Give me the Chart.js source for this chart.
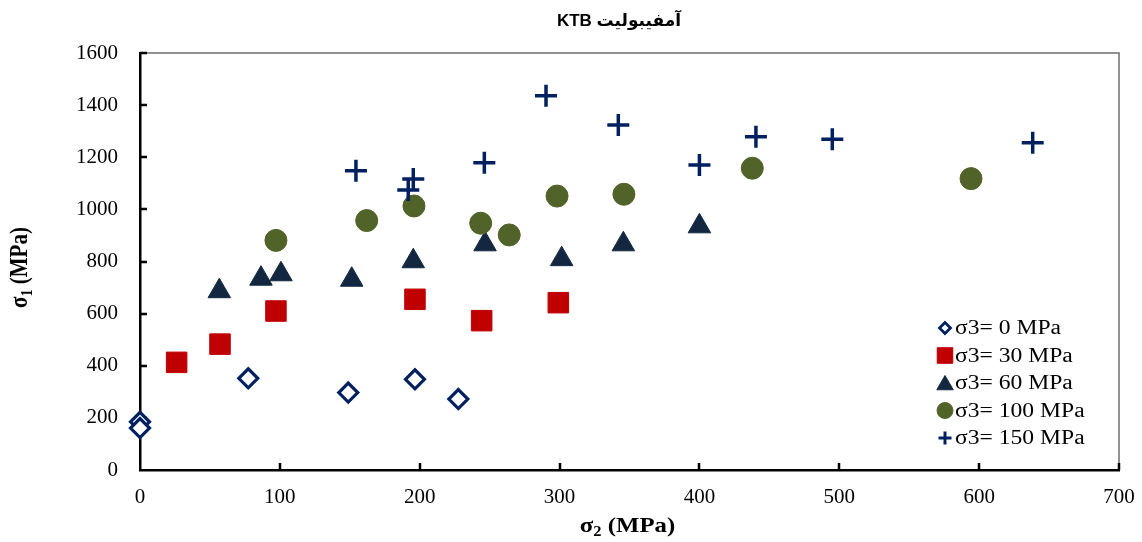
<!DOCTYPE html>
<html><head><meta charset="utf-8">
<script src="https://cdn.jsdelivr.net/npm/chart.js@4/dist/chart.umd.min.js"></script>
<style>html,body{margin:0;padding:0;background:#fff;} #wrap{width:1142px;height:542px;position:relative;}</style>
</head><body><div id="wrap"><canvas id="c"></canvas></div>
<script>
// ---- data ----
const chartTitle = 'آمفیبولیت KTB';
const seriesLabels = ['σ3= 0 MPa', 'σ3= 30 MPa', 'σ3= 60 MPa', 'σ3= 100 MPa', 'σ3= 150 MPa'];
const sig2_s0 = [0, 0, 77.4, 148.9, 196.6, 227.6];
const sig1_s0 = [185, 161, 352, 297, 348, 272];
const sig2_s30 = [26.2, 57.2, 97.2, 196.6, 244.3, 299.1];
const sig1_s30 = [413, 483, 610, 655, 573, 642];
const sig2_s60 = [56.7, 86.5, 100.8, 151.4, 195.4, 246.7, 301.5, 345.6, 400];
const sig1_s60 = [686, 734, 751, 730, 801, 866, 809, 866, 935];
const sig2_s100 = [97.2, 162.1, 195.9, 243.6, 264, 298.2, 346, 437.8, 594.2];
const sig1_s100 = [881, 957, 1013, 947, 902, 1051, 1058, 1158, 1118];
const sig2_s150 = [154.4, 191.8, 195.4, 246.2, 290.3, 342, 400, 440.4, 495, 638.3];
const sig1_s150 = [1148, 1074, 1117, 1179, 1436, 1324, 1170, 1279, 1269, 1256];
const xTickValues = [0, 100, 200, 300, 400, 500, 600, 700];
const yTickValues = [0, 200, 400, 600, 800, 1000, 1200, 1400, 1600];

const pts = (xs, ys) => xs.map((x, i) => ({x: x, y: ys[i]}));

const styles = [
  {pointStyle: 'rectRot', radius: 9.5, borderWidth: 3.2, backgroundColor: '#ffffff', borderColor: '#002060', lr: 5.5, lbw: 2.8},
  {pointStyle: 'rect', radius: 14.5, borderWidth: 1, backgroundColor: '#C00000', borderColor: '#C00000', lr: 11, lbw: 1},
  {pointStyle: 'triangle', radius: 13, borderWidth: 1, backgroundColor: '#132840', borderColor: '#132840', lr: 9.5, lbw: 1},
  {pointStyle: 'circle', radius: 11, borderWidth: 1, backgroundColor: '#526329', borderColor: '#526329', lr: 8, lbw: 1},
  {pointStyle: 'cross', radius: 11, borderWidth: 3.5, backgroundColor: '#002060', borderColor: '#002060', lr: 6.5, lbw: 3}
];
const seriesData = [pts(sig2_s0, sig1_s0), pts(sig2_s30, sig1_s30), pts(sig2_s60, sig1_s60), pts(sig2_s100, sig1_s100), pts(sig2_s150, sig1_s150)];

const datasets = seriesData.map((d, i) => ({
  label: seriesLabels[i],
  data: d,
  pointStyle: styles[i].pointStyle,
  pointRadius: styles[i].radius,
  pointHoverRadius: styles[i].radius,
  pointBorderWidth: styles[i].borderWidth,
  pointBackgroundColor: styles[i].backgroundColor,
  pointBorderColor: styles[i].borderColor,
  showLine: false,
  clip: false,
  order: 5 - i
}));

const SX = 1.18; // horizontal stretch of text in the reference

function drawSubText(ctx, base, sub, rest, size) {
  const f = 'bold ' + size + 'px "Liberation Serif", "Times New Roman", serif';
  const fs = 'bold ' + Math.round(size * 0.65) + 'px "Liberation Serif", "Times New Roman", serif';
  ctx.font = f; const w1 = ctx.measureText(base).width; const w3 = ctx.measureText(rest).width;
  ctx.font = fs; const w2 = ctx.measureText(sub).width;
  let x = -(w1 + w2 + w3) / 2;
  ctx.textAlign = 'left'; ctx.textBaseline = 'middle';
  ctx.font = f; ctx.fillText(base, x, 0); x += w1;
  ctx.font = fs; ctx.fillText(sub, x, size * 0.28); x += w2;
  ctx.font = f; ctx.fillText(rest, x, 0);
}

const decor = {
  id: 'decor',
  beforeDatasetsDraw(chart) {
    const ctx = chart.ctx, a = chart.chartArea, xs = chart.scales.x, ys = chart.scales.y;
    ctx.save();
    ctx.strokeStyle = '#6e6e6e'; ctx.lineWidth = 1.5;
    ctx.beginPath();
    ctx.moveTo(a.left, a.top); ctx.lineTo(a.right, a.top); ctx.lineTo(a.right, a.bottom);
    ctx.stroke();
    ctx.strokeStyle = '#000'; ctx.lineWidth = 2.5;
    ctx.beginPath();
    xs.ticks.forEach(t => { if (t.value === 0) return; const px = Math.round(xs.getPixelForValue(t.value)); ctx.moveTo(px, a.bottom); ctx.lineTo(px, a.bottom - 7); });
    ys.ticks.forEach(t => { if (t.value === 0) return; const py = Math.round(ys.getPixelForValue(t.value)); ctx.moveTo(a.left, py); ctx.lineTo(a.left + 7, py); });
    ctx.stroke();
    ctx.restore();
  },
  afterDraw(chart) {
    const ctx = chart.ctx, a = chart.chartArea;
    ctx.save();
    ctx.fillStyle = '#000';
    ctx.save();
    ctx.direction = 'rtl';
    ctx.font = 'bold 17px "Liberation Sans", "DejaVu Sans", sans-serif';
    ctx.textAlign = 'center'; ctx.textBaseline = 'middle';
    ctx.fillText(chartTitle, 619, 21);
    ctx.restore();
    ctx.save();
    ctx.translate((a.left + a.right) / 2 - 2, 527);
    ctx.scale(SX, 1);
    drawSubText(ctx, 'σ', '2', ' (MPa)', 21);
    ctx.restore();
    ctx.save();
    ctx.translate(21, (a.top + a.bottom) / 2 + 6);
    ctx.rotate(-Math.PI / 2);
    ctx.scale(1, SX);
    drawSubText(ctx, 'σ', '1', ' (MPa)', 21);
    ctx.restore();
    const lx = 945, ly0 = 328, ldy = 27.5, tx = 955;
    chart.data.datasets.forEach((ds, i) => {
      const st = styles[i];
      const y = ly0 + i * ldy;
      ctx.save();
      ctx.fillStyle = st.backgroundColor; ctx.strokeStyle = st.borderColor; ctx.lineWidth = st.lbw;
      Chart.helpers.drawPoint(ctx, {pointStyle: st.pointStyle, radius: st.lr, borderWidth: st.lbw, rotation: 0}, lx, y + (st.pointStyle === 'triangle' ? 2 : 0));
      ctx.restore();
      ctx.save();
      ctx.translate(tx, y);
      ctx.scale(SX, 1);
      ctx.fillStyle = '#000';
      ctx.font = '20px "Liberation Serif", "Times New Roman", serif';
      ctx.textAlign = 'left'; ctx.textBaseline = 'middle';
      ctx.fillText(ds.label, 0, 1);
      ctx.restore();
    });
    ctx.restore();
  }
};

const tickFont = {family: '"Liberation Serif", "Times New Roman", serif', size: 21};

new Chart(document.getElementById('c'), {
  type: 'scatter',
  data: {datasets: datasets},
  options: {
    responsive: true,
    maintainAspectRatio: false,
    animation: false,
    devicePixelRatio: 1,
    layout: {padding: {left: 0, right: 23, top: 53, bottom: 0}},
    plugins: {legend: {display: false}, tooltip: {enabled: false}, title: {display: false}},
    scales: {
      x: {
        type: 'linear', min: 0, max: 700,
        afterBuildTicks: s => { s.ticks = xTickValues.map(v => ({value: v})); },
        afterFit: s => { s.height = 72; s.paddingRight = 0; s.paddingLeft = 0; },
        ticks: {padding: 15, color: '#000', font: tickFont, callback: v => String(v)},
        grid: {display: false, drawTicks: false},
        border: {display: true, color: '#000', width: 2.5}
      },
      y: {
        type: 'linear', min: 0, max: 1600,
        afterBuildTicks: s => { s.ticks = yTickValues.map(v => ({value: v})); },
        afterFit: s => { s.width = 140; s.paddingTop = 0; s.paddingBottom = 0; },
        ticks: {padding: 22, color: '#000', font: tickFont, callback: v => String(v)},
        grid: {display: false, drawTicks: false},
        border: {display: true, color: '#000', width: 2.5}
      }
    }
  },
  plugins: [decor]
});
</script></body></html>
